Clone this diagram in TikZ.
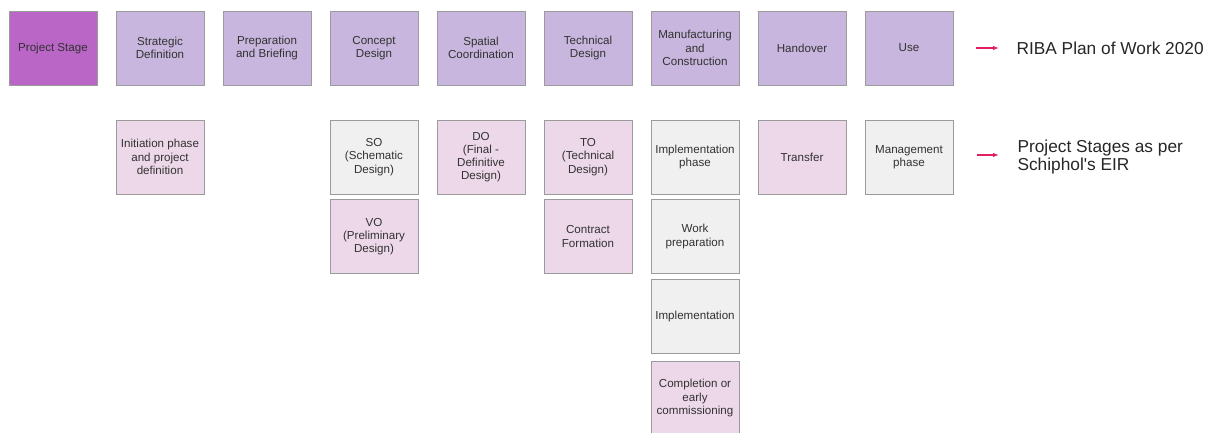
\documentclass[tikz,border=0pt]{standalone}
\usepackage{fontspec}
\setmainfont{Liberation Sans}
\usetikzlibrary{arrows.meta}
\definecolor{plum}{RGB}{185,102,198}
\definecolor{lavender}{RGB}{200,182,222}
\definecolor{blush}{RGB}{237,216,234}
\definecolor{paleg}{RGB}{240,240,240}
\definecolor{edgeg}{RGB}{155,155,155}
\definecolor{keyred}{RGB}{228,30,100}
\definecolor{inkg}{RGB}{50,50,50}
\tikzset{
  stagebox/.style={draw=edgeg, line width=0.9pt, minimum width=88pt, minimum height=74pt,
    inner sep=1pt, align=center, text=inkg, font=\fontsize{11.6}{13.2}\selectfont},
  headbox/.style={stagebox, fill=plum},
  ribabox/.style={stagebox, fill=lavender},
  eirbox/.style={stagebox, fill=blush},
  greybox/.style={stagebox, fill=paleg},
  keyarrow/.style={draw=keyred, line width=1.3pt, -{Latex[length=6pt,width=4.5pt]}},
  keytext/.style={anchor=west, align=left, text=black!85, font=\fontsize{17.3}{18.5}\selectfont}
}

\begin{document}
\begin{tikzpicture}[x=1pt, y=-1pt]
  \useasboundingbox (0,0) rectangle (1214,432);
  % RIBA row
  \node[headbox] (ps) at (53,48) {Project Stage};
  \node[ribabox] (sd) at (160,48) {Strategic\\Definition};
  \node[ribabox] (pb) at (267,48) {Preparation\\and Briefing};
  \node[ribabox] (cd) at (374,48) {Concept\\Design};
  \node[ribabox] (sc) at (481,48) {Spatial\\Coordination};
  \node[ribabox] (td) at (588,48) {Technical\\Design};
  \node[ribabox] (mc) at (695,48) {Manufacturing\\and\\Construction};
  \node[ribabox] (ho) at (802,48) {Handover};
  \node[ribabox] (use) at (909,48) {Use};
  % Schiphol EIR stages
  \node[eirbox] (init) at (160,157) {Initiation phase\\and project\\definition};
  \node[greybox] (so) at (374,157) {SO\\(Schematic\\Design)};
  \node[eirbox] (vo) at (374,236.5) {VO\\(Preliminary\\Design)};
  \node[eirbox] (dof) at (481,157) {DO\\(Final -\\Definitive\\Design)};
  \node[eirbox] (to) at (588,157) {TO\\(Technical\\Design)};
  \node[eirbox] (cf) at (588,236.5) {Contract\\Formation};
  \node[greybox] (ip) at (695,157) {Implementation\\phase};
  \node[greybox] (wp) at (695,236.5) {Work\\preparation};
  \node[greybox] (impl) at (695,316) {Implementation};
  \node[eirbox] (comp) at (695,398) {Completion or\\early\\commissioning};
  \node[eirbox] (tr) at (802,157) {Transfer};
  \node[greybox] (mp) at (909,157) {Management\\phase};
  % key
  \node[keytext] (riba) at (1013,48) {RIBA Plan of Work 2020};
  \node[keytext] (eir) at (1014,157) {Project Stages as per\\Schiphol\textquotesingle s EIR};
  \coordinate (k1) at (976,48);
  \coordinate (k2) at (977,155);
  \draw[keyarrow] (k1) -- ([xshift=-14pt]riba.west);
  \draw[keyarrow] (k2) -- ([xshift=-15pt]eir.west |- k2);
\end{tikzpicture}
\end{document}
